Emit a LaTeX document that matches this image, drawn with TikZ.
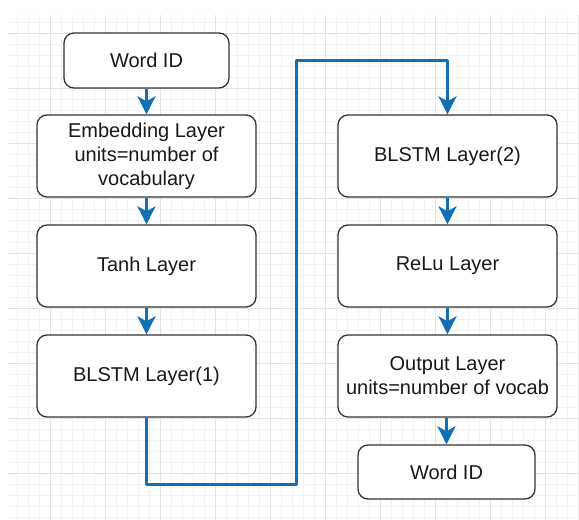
\documentclass[tikz,border=0pt]{standalone}
\usepackage{fontspec}
\setmainfont{Liberation Sans}
\usetikzlibrary{
  arrows.meta,
  positioning
}
\definecolor{flowblue}{HTML}{1170B5}
\tikzset{
  % For the layer boxes.
  layer/.style={
    draw=black!80,
    line width=1.3pt,
    rounded corners=10pt,
    fill=white,
    text=black!90,
    minimum width=219pt,
    minimum height=82pt,
    inner sep=0pt,
    align=center,
    font=\fontsize{20}{24}\selectfont},
%
  % For the word id boxes at both ends.
  id box/.style={
    layer,
    minimum width=165pt,
    minimum height=55pt},
%
  % For the connectors between layers.
  flow/.style={
    draw=flowblue,
    line width=3pt,
    line join=round,
    -{Stealth[length=18pt, width=18pt, inset=5pt]}},
%
  % For the background grid.
  minor grid/.style={
    draw=black!5,
    line width=0.6pt},
  major grid/.style={
    draw=black!11,
    line width=0.8pt},
}

\begin{document}
\begin{tikzpicture}[x=1pt, y=1pt]
  \useasboundingbox[fill=white] (0,0) rectangle (579,520);

  % Background grid.
  \foreach \gx in {17,28,...,578}
    \draw[minor grid] (\gx,0) -- (\gx,505);
  \foreach \gy in {3,14,...,498}
    \draw[minor grid] (8,\gy) -- (579,\gy);
  \foreach \gx in {50,105,...,545}
    \draw[major grid] (\gx,0) -- (\gx,505);
  \foreach \gy in {47,102,...,487}
    \draw[major grid] (8,\gy) -- (579,\gy);

  % Left column.
  \node[id box] (word in) at (146.5,459.5) {Word ID};
  \node[layer] (embed) at (146.5,364) {Embedding Layer\\units=number of\\vocabulary};
  \node[layer] (tanh) at (146.5,254) {Tanh Layer};
  \node[layer] (blstm one) at (146.5,144) {BLSTM Layer(1)};

  % Right column.
  \node[layer] (blstm two) at (447.5,364) {BLSTM Layer(2)};
  \node[layer] (relu) at (447.5,254) {ReLu Layer};
  \node[layer] (output) at (447.5,144) {Output Layer\\units=number of vocab};
  \node[id box, minimum width=177pt, minimum height=54pt] (word out) at (446.5,48) {Word ID};

  \coordinate (turn low) at (296,35);
  \coordinate (turn high) at (296,459);

  \draw[flow] (word in) -- (embed);
  \draw[flow] (embed) -- (tanh);
  \draw[flow] (tanh) -- (blstm one);
  \draw[flow] (blstm one) |- (turn low) -- (turn high) -| (blstm two);
  \draw[flow] (blstm two) -- (relu);
  \draw[flow] (relu) -- (output);
  \draw[flow] (output.south -| word out.north) -- (word out);
\end{tikzpicture}
\end{document}
